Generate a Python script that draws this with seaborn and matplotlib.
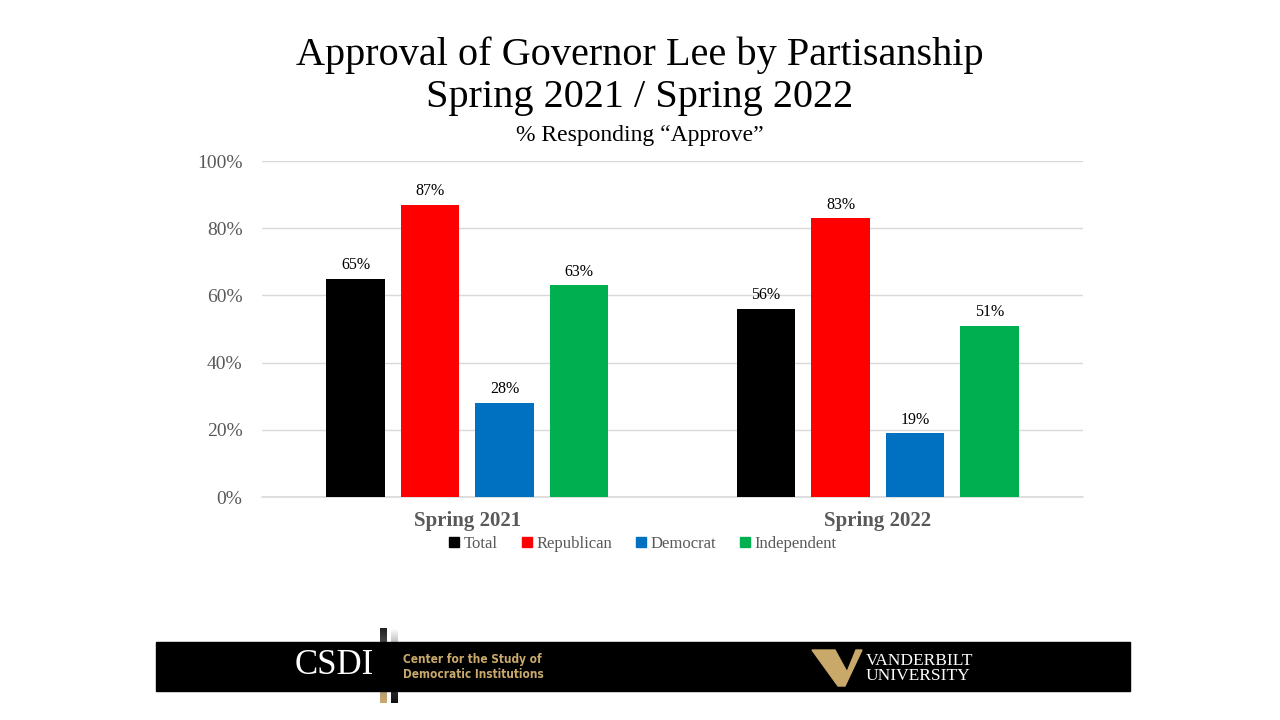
import pandas as pd
import matplotlib.pyplot as plt
import matplotlib.patches as mpatches
from matplotlib.colors import LinearSegmentedColormap
import numpy as np
import seaborn as sns

# chart values
waves = ["Spring 2021", "Spring 2022"]
groups = ["Total", "Republican", "Democrat", "Independent"]
approve_2021 = [65, 87, 28, 63]
approve_2022 = [56, 83, 19, 51]
y_ticks = [0, 20, 40, 60, 80, 100]

colors = ["#000000", "#FF0000", "#0070C0", "#00B050"]

df = pd.DataFrame({
    "wave": [waves[0]] * 4 + [waves[1]] * 4,
    "group": groups * 2,
    "approve": approve_2021 + approve_2022,
})

sns.set_theme(style="white")
plt.rcParams["font.family"] = ["Liberation Serif", "DejaVu Serif"]

fig = plt.figure(figsize=(12.8, 7.2), dpi=100)
ax = fig.add_axes([262 / 1280, 1 - 497 / 720, 821 / 1280, 336 / 720])

sns.barplot(data=df, x="wave", y="approve", hue="group", hue_order=groups,
            palette=colors, width=0.726, gap=0.21, saturation=1, ax=ax,
            legend=False, edgecolor="none")

for cont in ax.containers:
    ax.bar_label(cont, labels=[f"{v:.0f}%" for v in cont.datavalues],
                 padding=4, fontsize=11.5, color="#000000")

ax.set_ylim(0, 100)
ax.set_yticks(y_ticks)
ax.set_yticklabels([f"{t}%" for t in y_ticks], fontsize=14, color="#595959")
ax.yaxis.grid(True, color="#D9D9D9", linewidth=1)
ax.axhline(0, color="#D9D9D9", linewidth=1.2, zorder=0.5, clip_on=False)
ax.set_axisbelow(True)
ax.tick_params(axis="both", length=0)
ax.tick_params(axis="y", pad=14)
ax.tick_params(axis="x", pad=10)
for lbl in ax.get_xticklabels():
    lbl.set_fontsize(15)
    lbl.set_fontweight("bold")
    lbl.set_color("#595959")
for s in ax.spines.values():
    s.set_visible(False)
ax.set_xlabel("")
ax.set_ylabel("")

handles = [mpatches.Patch(color=c, label=g) for g, c in zip(groups, colors)]
fig.legend(handles=handles, loc="center", bbox_to_anchor=(643 / 1280, 1 - 544 / 720),
           ncol=4, frameon=False, fontsize=12, handlelength=0.6, handleheight=0.6,
           handletextpad=0.3, columnspacing=1.4, labelcolor="#595959")

# titles
fig.text(0.5, 1 - 55 / 720, "Approval of Governor Lee by Partisanship",
         ha="center", va="center", fontsize=29, color="#000000")
fig.text(0.5, 1 - 98 / 720, "Spring 2021 / Spring 2022",
         ha="center", va="center", fontsize=29, color="#000000")
fig.text(0.5, 1 - 135 / 720, "% Responding \u201cApprove\u201d",
         ha="center", va="center", fontsize=17, color="#000000")

# footer band
fig.patches.append(mpatches.Rectangle((156 / 1280, 1 - 691 / 720), 974 / 1280, 49 / 720,
                                      transform=fig.transFigure, color="black", zorder=0))
gold = "#C9A96A"
fig.text(334 / 1280, 1 - 666 / 720, "CSDI", ha="center", va="center",
         fontsize=25, color="white")
# gradient divider bars
grad = np.linspace(0, 1, 100).reshape(-1, 1)
cax = fig.add_axes([380 / 1280, 1 - 703 / 720, 7 / 1280, 75 / 720])
cax.imshow(grad, aspect="auto", cmap=LinearSegmentedColormap.from_list("g", ["#222222", "#888888", gold]))
cax.axis("off")
cax2 = fig.add_axes([391 / 1280, 1 - 703 / 720, 7 / 1280, 75 / 720])
cax2.imshow(grad, aspect="auto", cmap=LinearSegmentedColormap.from_list("g2", ["#FFFFFF", "#555555", "#111111"]))
cax2.axis("off")
fig.text(403 / 1280, 1 - 660 / 720, "Center for the Study of", ha="left", va="center",
         fontsize=8.5, color=gold, fontweight="bold", family="DejaVu Sans",
         fontstretch="condensed")
fig.text(403 / 1280, 1 - 674 / 720, "Democratic Institutions", ha="left", va="center",
         fontsize=8.5, color=gold, fontweight="bold", family="DejaVu Sans",
         fontstretch="condensed")
v = mpatches.Polygon([(812 / 1280, 1 - 650 / 720), (835 / 1280, 1 - 650 / 720),
                      (847 / 1280, 1 - 672 / 720), (856 / 1280, 1 - 650 / 720),
                      (862 / 1280, 1 - 650 / 720), (845 / 1280, 1 - 686 / 720),
                      (838 / 1280, 1 - 686 / 720)],
                     closed=True, transform=fig.transFigure, color=gold, zorder=2)
fig.patches.append(v)
fig.text(866 / 1280, 1 - 661 / 720, "VANDERBILT", ha="left", va="center",
         fontsize=12.5, color="white")
fig.text(866 / 1280, 1 - 676 / 720, "UNIVERSITY", ha="left", va="center",
         fontsize=12.5, color="white")

fig.savefig("out.png", dpi=100)
